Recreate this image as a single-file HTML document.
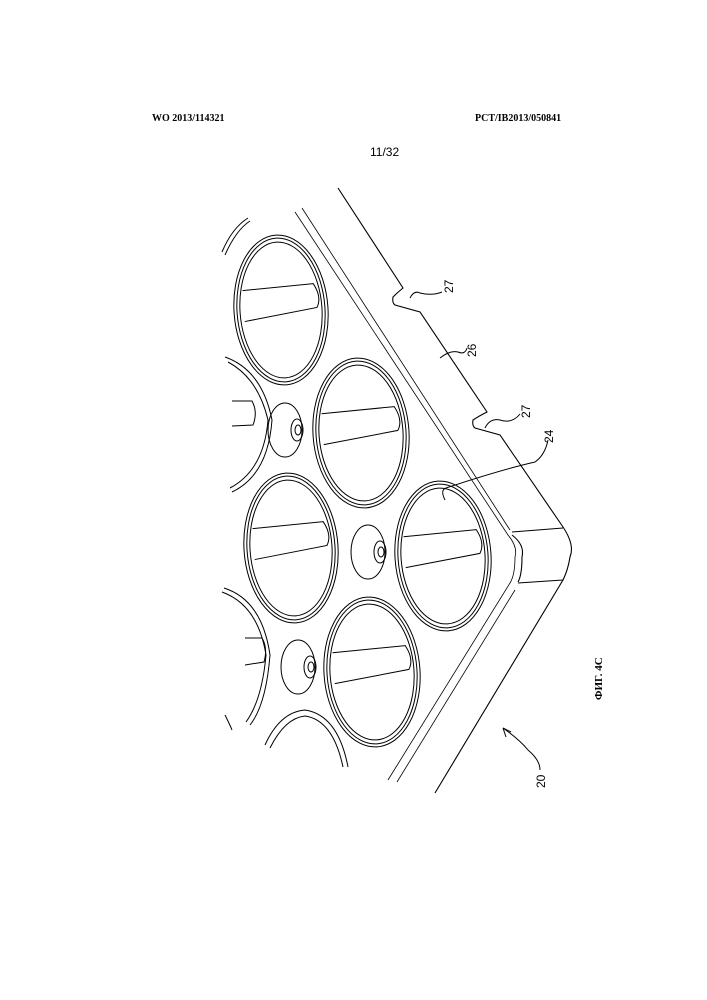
<!DOCTYPE html>
<html><head><meta charset="utf-8"><style>
html,body{margin:0;padding:0;background:#fff;}
svg{display:block;}
</style></head><body>
<svg width="707" height="1000" viewBox="0 0 707 1000" xmlns="http://www.w3.org/2000/svg">
<rect width="707" height="1000" fill="#fff"/>
<text x="152" y="121" font-family="Liberation Serif, serif" font-weight="bold" font-size="10">WO 2013/114321</text>
<text x="475" y="121" font-family="Liberation Serif, serif" font-weight="bold" font-size="10">PCT/IB2013/050841</text>
<text x="370" y="156" font-family="Liberation Sans, sans-serif" font-size="12">11/32</text>
<g fill="none" stroke="#000" stroke-width="1.1">
<!-- outer edge -->
<path d="M338 188 L403 288 Q398 292 393 297 Q392 303 395 305 L420 312 L487 412 Q479 416 473 420 Q472 426 475 428 L500 435 L563 527 Q575 545 570 557 Q568 570 563 580 L435 793"/>
<!-- corner block -->
<path d="M512 532 L563 528 M518 583 L563 580"/>
<path d="M512 535 Q525 545 522 557 Q522 575 518 582"/>
<!-- inner parallel lines -->
<path d="M295 212 L508 535 Q518 547 515 557 Q515 575 510 583 L388 780" stroke-width="0.8"/>
<path d="M302 208 L510 530" stroke-width="0.8"/>
<path d="M397 782 L515 590" stroke-width="0.8"/>
<!-- big holes -->
<g id="h">
</g>
</g>
<g fill="none" stroke="#000" stroke-width="1">
<!-- hole template drawn per instance -->
<g transform="translate(281,310) rotate(-4)">
<ellipse rx="47" ry="75"/><ellipse rx="44" ry="72"/><ellipse rx="41" ry="68"/>
<path d="M-37 -22 L34 -24 Q42 -10 36 0 L-37 9"/></g>
<g transform="translate(361,433) rotate(-4)">
<ellipse rx="48" ry="75"/><ellipse rx="45" ry="72"/><ellipse rx="42" ry="68"/>
<path d="M-38 -22 L35 -24 Q43 -10 37 0 L-38 9"/></g>
<g transform="translate(291,548) rotate(-4)">
<ellipse rx="47" ry="75"/><ellipse rx="44" ry="72"/><ellipse rx="41" ry="68"/>
<path d="M-37 -22 L34 -24 Q42 -10 36 0 L-37 9"/></g>
<g transform="translate(443,556) rotate(-4)">
<ellipse rx="48" ry="75"/><ellipse rx="45" ry="72"/><ellipse rx="42" ry="68"/>
<path d="M-38 -22 L35 -24 Q43 -10 37 0 L-38 9"/></g>
<g transform="translate(372,672) rotate(-4)">
<ellipse rx="48" ry="75"/><ellipse rx="45" ry="72"/><ellipse rx="42" ry="68"/>
<path d="M-38 -22 L35 -24 Q43 -10 37 0 L-38 9"/></g>
<!-- partial holes at left -->
<path d="M222 252 Q232 228 248 218 M225 255 Q236 230 250 221"/>
<path d="M225 357 Q262 370 272 420 Q268 475 232 492 M228 362 Q258 378 268 420 Q264 470 230 488"/>
<path d="M232 401 L252 401 Q258 412 253 425 L232 426"/>
<path d="M224 588 Q262 600 270 655 Q266 705 250 725 M222 592 Q258 605 266 655 Q262 700 246 722"/>
<path d="M245 638 L262 638 Q268 648 264 662 L245 665"/>
<path d="M265 745 Q280 712 305 710 Q338 715 348 767 M270 748 Q285 718 305 716 Q333 720 343 767"/>
<path d="M225 715 Q230 725 232 730"/>
<!-- posts -->
<g transform="translate(285,430)"><ellipse rx="17" ry="27"/><ellipse cx="12" cy="0" rx="6" ry="11"/><ellipse cx="13" cy="0" rx="3" ry="5"/></g>
<g transform="translate(368,552)"><ellipse rx="17" ry="27"/><ellipse cx="12" cy="0" rx="6" ry="11"/><ellipse cx="13" cy="0" rx="3" ry="5"/></g>
<g transform="translate(298,667)"><ellipse rx="17" ry="27"/><ellipse cx="12" cy="0" rx="6" ry="11"/><ellipse cx="13" cy="0" rx="3" ry="5"/></g>
<!-- leaders -->
<path d="M410 298 Q414 290 420 293 Q432 296 442 292"/>
<path d="M440 358 Q450 350 458 352 Q465 355 467 348"/>
<path d="M485 428 Q490 418 500 420 Q512 424 520 414"/>
<path d="M445 500 Q440 490 446 488 Q500 470 535 462 Q545 455 548 440"/>
<path d="M503 728 Q520 740 528 750 Q540 760 540 770"/>
<path d="M503 728 L506 737 M503 728 L511 732"/>
</g>
<g font-family="Liberation Sans, sans-serif" font-size="12" fill="#000">
<text transform="translate(453,293) rotate(-90)">27</text>
<text transform="translate(476,357) rotate(-90)">26</text>
<text transform="translate(530,418) rotate(-90)">27</text>
<text transform="translate(553,443) rotate(-90)">24</text>
<text transform="translate(545,788) rotate(-90)">20</text>
</g>
<text transform="translate(602,700) rotate(-90)" font-family="Liberation Serif, 'Noto Serif CJK SC', serif" font-weight="bold" font-size="11">ФИГ. 4C</text>
</svg>
</body></html>
